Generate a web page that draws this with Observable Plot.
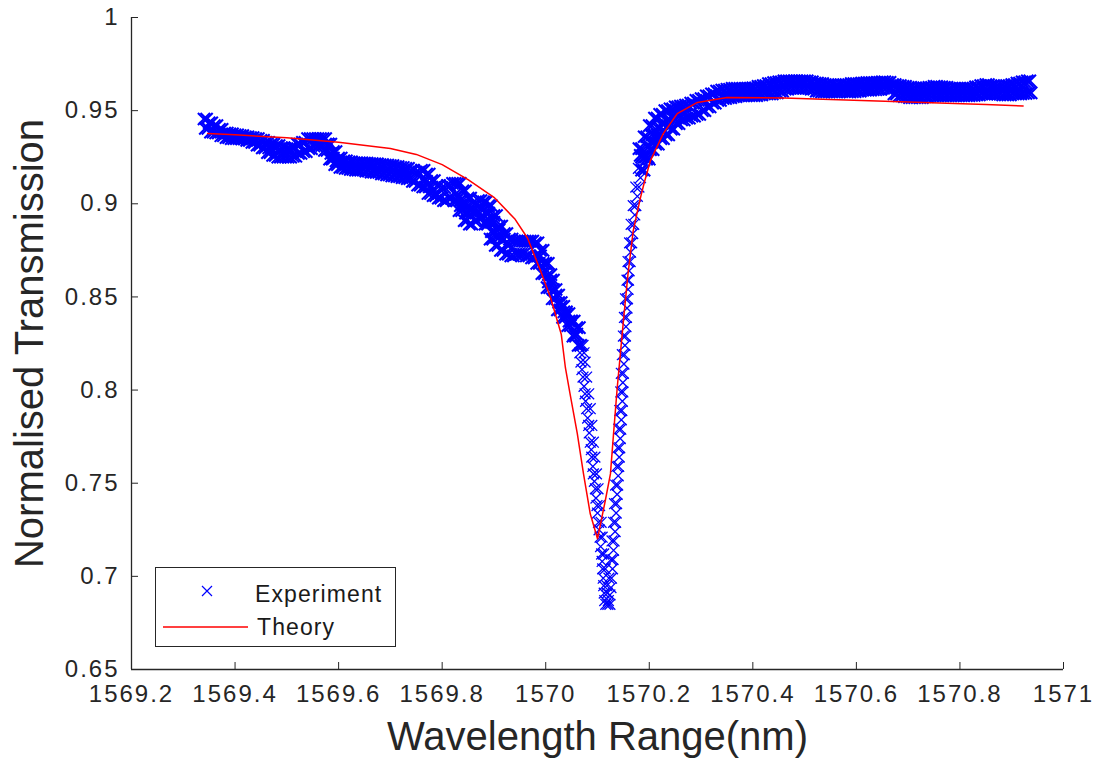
<!DOCTYPE html>
<html><head><meta charset="utf-8">
<script src="https://cdn.jsdelivr.net/npm/d3@7"></script>
<script src="https://cdn.jsdelivr.net/npm/@observablehq/plot@0.6"></script>
<style>
html,body{margin:0;padding:0;background:#fff;}
#wrap{position:relative;width:1098px;height:774px;overflow:hidden;font-family:"Liberation Sans",Arial,Helvetica,sans-serif;}
#wrap svg g[aria-label$="tick label"]{letter-spacing:2px;}
#legend{position:absolute;left:155px;top:567px;width:241px;height:80px;border:1px solid #262626;background:#fff;box-sizing:border-box;}
</style></head><body><div id="wrap"></div>
<script>
// ---- axes ----
const xDomain = [1569.2, 1571];
const yDomain = [0.65, 1];
const xTicks = [1569.2, 1569.4, 1569.6, 1569.8, 1570, 1570.2, 1570.4, 1570.6, 1570.8, 1571];
const yTicks = [0.65, 0.7, 0.75, 0.8, 0.85, 0.9, 0.95, 1];
const xLabel = "Wavelength Range(nm)";
const yLabel = "Normalised Transmission";
const legendLabels = ["Experiment", "Theory"];

// ---- experiment: band readings (upper and lower scatter) ----
const expWavelength = [
1569.34,1569.35,1569.36,1569.37,1569.38,1569.39,1569.40,1569.41,1569.42,1569.43,1569.44,1569.45,1569.46,1569.47,1569.48,1569.49,
1569.50,1569.51,1569.52,1569.53,1569.54,1569.55,1569.56,1569.57,1569.58,1569.59,1569.60,1569.61,1569.62,1569.63,1569.64,1569.65,
1569.66,1569.67,1569.68,1569.69,1569.70,1569.71,1569.72,1569.73,1569.74,1569.75,1569.76,1569.77,1569.78,1569.79,1569.80,1569.81,
1569.82,1569.83,1569.84,1569.85,1569.86,1569.87,1569.88,1569.89,1569.90,1569.91,1569.92,1569.93,1569.94,1569.95,1569.96,1569.97,
1569.98,1569.99,1570.00,1570.01,1570.02,1570.03,1570.04,1570.05,1570.06,
1570.18,1570.19,1570.20,1570.21,1570.22,1570.23,1570.24,1570.25,1570.26,1570.27,1570.28,1570.29,1570.30,1570.31,1570.32,1570.33,
1570.34,1570.35,1570.36,1570.37,1570.38,1570.39,1570.40,1570.41,1570.42,1570.43,1570.44,1570.45,1570.46,1570.47,1570.48,1570.49,
1570.50,1570.51,1570.52,1570.53,1570.54,1570.55,1570.56,1570.57,1570.58,1570.59,1570.60,1570.61,1570.62,1570.63,1570.64,1570.65,
1570.66,1570.67,1570.68,1570.69,1570.70,1570.71,1570.72,1570.73,1570.74,1570.75,1570.76,1570.77,1570.78,1570.79,1570.80,1570.81,
1570.82,1570.83,1570.84,1570.85,1570.86,1570.87,1570.88,1570.89,1570.90,1570.91,1570.92,1570.93];
const expHigh = [
0.9455,0.9435,0.942,0.940,0.938,0.9375,0.937,0.9366,0.936,0.9355,0.935,0.934,0.933,0.932,0.9313,0.930,
0.9296,0.930,0.932,0.933,0.935,0.935,0.935,0.935,0.932,0.928,0.9245,0.923,0.9225,0.922,0.922,0.9218,
0.9216,0.9214,0.921,0.9208,0.9205,0.920,0.9195,0.919,0.918,0.917,0.918,0.916,0.9125,0.9098,0.9087,0.9098,
0.911,0.911,0.907,0.903,0.9006,0.9017,0.901,0.899,0.8937,0.888,0.884,0.881,0.880,0.880,0.880,0.880,
0.879,0.875,0.868,0.859,0.851,0.845,0.841,0.837,0.8335,
0.9296,0.936,0.942,0.946,0.948,0.950,0.951,0.952,0.9525,0.953,0.954,0.9555,0.9565,0.958,0.959,0.9605,
0.961,0.9615,0.962,0.962,0.9618,0.962,0.9622,0.963,0.9635,0.9645,0.965,0.9655,0.966,0.966,0.966,0.966,
0.966,0.9655,0.9648,0.9645,0.964,0.9638,0.9635,0.9638,0.964,0.9645,0.9645,0.9648,0.965,0.965,0.9652,0.9655,
0.9652,0.964,0.9635,0.963,0.9625,0.962,0.962,0.9622,0.9625,0.963,0.9628,0.9625,0.962,0.962,0.962,0.962,
0.962,0.9628,0.9635,0.964,0.9635,0.963,0.963,0.9635,0.964,0.9648,0.9655,0.966];
const expLow = [
0.9405,0.9385,0.938,0.9365,0.9355,0.935,0.935,0.9348,0.934,0.933,0.9315,0.930,0.9275,0.926,0.925,0.925,
0.925,0.9255,0.927,0.928,0.9296,0.931,0.9313,0.9286,0.924,0.921,0.9195,0.919,0.9185,0.918,0.918,0.9175,
0.917,0.9168,0.916,0.9155,0.915,0.9145,0.914,0.9135,0.912,0.910,0.909,0.9055,0.9044,0.903,0.9017,0.903,
0.9017,0.8963,0.891,0.889,0.891,0.8926,0.889,0.881,0.8776,0.875,0.873,0.872,0.873,0.873,0.872,0.871,
0.868,0.8625,0.855,0.849,0.843,0.839,0.8346,0.829,0.824,
0.926,0.925,0.929,0.932,0.935,0.937,0.940,0.943,0.945,0.946,0.947,0.948,0.950,0.952,0.954,0.9555,
0.9565,0.957,0.9575,0.958,0.958,0.958,0.958,0.9585,0.959,0.959,0.9595,0.9605,0.9615,0.962,0.962,0.962,
0.962,0.9615,0.9605,0.960,0.960,0.960,0.9602,0.9605,0.960,0.9602,0.9605,0.961,0.961,0.9612,0.9615,0.962,
0.9615,0.959,0.958,0.9575,0.957,0.957,0.957,0.9575,0.958,0.958,0.958,0.958,0.958,0.958,0.958,0.958,
0.9582,0.9585,0.959,0.959,0.959,0.9588,0.9585,0.9585,0.959,0.959,0.9592,0.9595];

// extra scatter readings where the trace is steep
const extraWavelength = [1569.465,1569.575,1569.585,1569.585,1569.595,1569.765,1569.775,1569.825,1569.835,1569.835,1569.845,1569.845,
1569.855,1569.865,1569.875,1569.885,1569.885,1569.895,1569.895,1569.905,1569.905,1569.915,1569.925,1569.985,1569.995,1570.005,1570.005,
1570.015,1570.025,1570.035,1570.045,1570.055,1570.185,1570.185,1570.195,1570.195,1570.205,1570.205,1570.215,1570.215,1570.225,1570.225,
1570.235,1570.235,1570.245,1570.255,1570.265];
const extraTransmission = [0.930,0.932,0.927,0.9245,0.923,0.912,0.909,0.905,0.902,0.899,0.899,0.895,
0.896,0.896,0.897,0.895,0.891,0.890,0.885,0.886,0.882,0.881,0.878,0.872,0.868,0.862,0.858,
0.854,0.847,0.842,0.837,0.830,0.925,0.918,0.931,0.924,0.937,0.933,0.941,0.937,0.943,0.939,
0.945,0.942,0.947,0.948,0.949];

// sparse points through the resonance dip
const dipWavelength = [
1570.064,1570.072,1570.066,1570.074,1570.068,1570.076,1570.070,1570.072,1570.079,1570.074,1570.076,1570.083,1570.077,1570.079,1570.086,
1570.081,1570.083,1570.089,1570.084,1570.086,1570.092,1570.088,1570.089,1570.095,1570.091,1570.092,1570.098,1570.094,1570.096,1570.101,
1570.097,1570.099,1570.104,1570.100,1570.102,1570.107,1570.103,1570.105,1570.109,1570.106,1570.108,1570.112,1570.109,1570.110,1570.115,
1570.111,1570.112,1570.118,1570.113,1570.119,1570.114,1570.121,1570.116,1570.120,1570.124,
1570.124,1570.126,1570.127,1570.122,1570.129,1570.130,1570.126,1570.131,1570.132,1570.128,1570.134,1570.135,1570.131,1570.136,1570.137,
1570.133,1570.138,1570.139,1570.135,1570.140,1570.141,1570.137,1570.142,1570.143,1570.139,1570.144,1570.145,1570.141,1570.146,1570.147,
1570.143,1570.148,1570.149,1570.145,1570.149,1570.150,1570.146,1570.151,1570.152,1570.148,1570.153,1570.154,1570.150,1570.155,1570.156,
1570.152,1570.157,1570.158,1570.154,1570.159,1570.160,1570.157,1570.161,1570.163,1570.159,1570.164,1570.166,1570.162,1570.168,1570.170,
1570.165,1570.172,1570.174,1570.169,1570.177,1570.180,1570.174,1570.183,1570.186,1570.179];
const dipTransmission = [
0.824,0.824,0.820,0.820,0.815,0.815,0.811,0.807,0.807,0.802,0.798,0.798,0.794,0.790,0.790,
0.785,0.781,0.781,0.777,0.772,0.772,0.768,0.764,0.764,0.759,0.755,0.755,0.751,0.747,0.747,
0.742,0.738,0.738,0.734,0.729,0.729,0.725,0.721,0.721,0.716,0.712,0.712,0.708,0.704,0.704,
0.699,0.695,0.695,0.691,0.691,0.687,0.687,0.685,0.685,0.685,
0.690,0.694,0.699,0.699,0.704,0.709,0.709,0.714,0.719,0.719,0.724,0.729,0.729,0.734,0.739,
0.739,0.744,0.749,0.749,0.754,0.759,0.759,0.764,0.769,0.769,0.774,0.779,0.779,0.784,0.789,
0.789,0.794,0.799,0.799,0.804,0.809,0.809,0.814,0.819,0.819,0.824,0.829,0.829,0.834,0.839,
0.839,0.844,0.849,0.849,0.854,0.859,0.859,0.864,0.869,0.869,0.874,0.879,0.879,0.884,0.889,
0.889,0.894,0.899,0.899,0.904,0.909,0.909,0.914,0.919,0.919];

// ---- theory ----
const theoryWavelength = [1569.347,1569.40,1569.50,1569.60,1569.70,1569.75,1569.80,1569.85,1569.90,1569.94,1569.965,1569.99,1570.01,
1570.03,1570.038,1570.047,1570.061,1570.073,1570.086,1570.100,1570.115,1570.125,1570.131,1570.138,1570.150,1570.159,1570.169,1570.183,
1570.190,1570.202,1570.227,1570.254,1570.293,1570.35,1570.46,1570.55,1570.70,1570.85,1570.922];
const theoryTransmission = [0.9377,0.9370,0.9355,0.9330,0.9297,0.9265,0.9210,0.9130,0.9035,0.8920,0.8815,0.8640,0.8490,
0.8300,0.8120,0.7980,0.7766,0.7550,0.7336,0.7202,0.7406,0.7550,0.7766,0.8010,0.8370,0.8625,0.8856,0.9033,
0.9110,0.9230,0.9377,0.9484,0.9544,0.9570,0.9568,0.9560,0.9547,0.9533,0.9525];

// ---- build tables ----
const bandHigh = expWavelength.map((w, i) => ({w, t: expHigh[i]}));
const bandLow = expWavelength.map((w, i) => ({w, t: expLow[i]}));
const extra = extraWavelength.map((w, i) => ({w, t: extraTransmission[i]}));
const dip = dipWavelength.map((w, i) => ({w, t: dipTransmission[i]}));
const theory = theoryWavelength.map((w, i) => ({w, t: theoryTransmission[i]}));

const fmtX = d => String(+d.toFixed(1));
const fmtY = d => String(+d.toFixed(2));
const BLUE = "#0000ff", RED = "#ff0000", INK = "#262626";
const bandStyle = {x: "w", y: "t", symbol: "times", r: 5.6, stroke: BLUE, strokeWidth: 2.1};

const chart = Plot.plot({
  width: 1098, height: 774,
  marginLeft: 131, marginRight: 35, marginTop: 17, marginBottom: 105,
  style: {fontFamily: "'Liberation Sans', Arial, sans-serif", background: "#fff", color: INK, overflow: "visible"},
  x: {domain: xDomain},
  y: {domain: yDomain},
  marks: [
    Plot.ruleY([yDomain[0]], {stroke: INK, strokeWidth: 1.3}),
    Plot.ruleX([xDomain[0]], {stroke: INK, strokeWidth: 1.3}),
    Plot.axisX(xTicks, {tickSize: -7, tickPadding: 22, tickFormat: fmtX, fontSize: 24, label: null}),
    Plot.axisY(yTicks, {tickSize: -7, tickPadding: 19, tickFormat: fmtY, fontSize: 24, label: null}),
    Plot.dot(bandHigh, {...bandStyle}),
    Plot.dot(bandHigh, {...bandStyle, dx: 2.6}),
    Plot.dot(bandLow, {...bandStyle, dx: 1.3}),
    Plot.dot(bandLow, {...bandStyle, dx: 3.9}),
    Plot.dot(extra, {...bandStyle}),
    Plot.dot(extra, {...bandStyle, dx: 2.6}),
    Plot.dot(dip, {x: "w", y: "t", symbol: "times", r: 5, stroke: BLUE, strokeWidth: 1.3}),
    Plot.line(theory, {x: "w", y: "t", stroke: RED, strokeWidth: 1.5}),
    Plot.text([xLabel], {frameAnchor: "bottom", dy: 80, fontSize: 40, fill: INK}),
    Plot.text([yLabel], {frameAnchor: "left", textAnchor: "middle", dx: -101, rotate: -90, fontSize: 40, fill: INK})
  ]
});
const wrap = document.getElementById("wrap");
wrap.appendChild(chart);

// ---- legend ----
const leg = d3.select(wrap).append("div").attr("id", "legend");
const ls = leg.append("svg").attr("width", 239).attr("height", 78).style("display", "block");
ls.append("path").attr("d", "M46,18L56,28M46,28L56,18").attr("stroke", BLUE).attr("stroke-width", 1.2).attr("fill", "none");
ls.append("line").attr("x1", 7).attr("x2", 92).attr("y1", 59).attr("y2", 59).attr("stroke", RED).attr("stroke-width", 1.5);
ls.selectAll("text").data(legendLabels).join("text")
  .attr("x", (d, i) => i === 0 ? 99 : 101)
  .attr("y", (d, i) => i === 0 ? 34 : 67)
  .attr("font-size", 23).attr("letter-spacing", "1.1px").attr("fill", "#1a1a1a")
  .attr("font-family", "'Liberation Sans', Arial, sans-serif")
  .text(d => d);
</script>
</body></html>
